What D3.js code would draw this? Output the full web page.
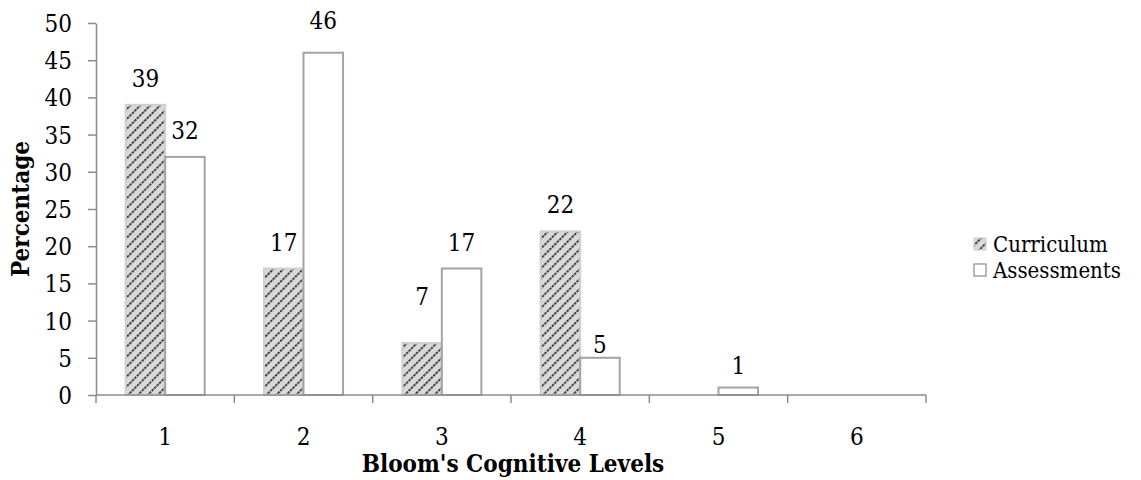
<!DOCTYPE html>
<html>
<head>
<meta charset="utf-8">
<script src="https://cdn.jsdelivr.net/npm/d3@7"></script>
<style>
  html, body { margin: 0; padding: 0; background: #fff; }
  svg text {
    font-family: "DejaVu Serif Condensed", "DejaVu Serif", serif;
    font-stretch: condensed;
    fill: #000;
  }
</style>
</head>
<body>
<svg id="chart" width="1141" height="480"></svg>
<script>
// Share of items at each of Bloom's cognitive levels
const levels = ["1", "2", "3", "4", "5", "6"];
const seriesNames = ["Curriculum", "Assessments"];
const curriculum = [39, 17, 7, 22, 0, 0];
const assessments = [32, 46, 17, 5, 1, 0];
const yTicks = [0, 5, 10, 15, 20, 25, 30, 35, 40, 45, 50];

// Gap (px) between each value label's baseline and its bar top
const curriculumLabelGap = [18, 18, 38, 18, 18, 18];
const assessmentsLabelGap = [18, 24, 18, 5, 14, 18];

const svg = d3.select("#chart");
const margin = { left: 96, right: 215, top: 23, bottom: 85 };
const W = 1141, H = 480;
const fontSize = 24;
const legendFontSize = 22;

// Hatched fill for the curriculum bars
const defs = svg.append("defs");
const pat = defs.append("pattern")
  .attr("id", "hatch")
  .attr("patternUnits", "userSpaceOnUse")
  .attr("width", 7).attr("height", 7)
  .attr("patternTransform", "rotate(45)");
pat.append("rect").attr("width", 7).attr("height", 7).attr("fill", "#d9d9d9");
pat.append("line")
  .attr("x1", 0).attr("y1", 0).attr("x2", 0).attr("y2", 7)
  .attr("stroke", "#262626").attr("stroke-width", 3.4)
  .attr("stroke-dasharray", "2.5 1");

const x = d3.scaleBand().domain(levels)
  .range([margin.left, W - margin.right]).paddingInner(0).paddingOuter(0);
const xs = d3.scaleBand().domain(seriesNames)
  .range([0, x.bandwidth()]).paddingInner(0).paddingOuter(0.75);
const y = d3.scaleLinear().domain([0, 50]).range([H - margin.bottom, margin.top]);

// Y axis
const yAxis = svg.append("g")
  .attr("transform", `translate(${margin.left},0)`)
  .call(d3.axisLeft(y).tickValues(yTicks).tickSize(8).tickPadding(16).tickSizeOuter(0));
yAxis.select(".domain").attr("stroke", "#8c8c8c").attr("stroke-width", 1.5);
yAxis.selectAll(".tick line").attr("stroke", "#8c8c8c").attr("stroke-width", 1.5);
yAxis.selectAll(".tick text").style("font-size", fontSize + "px").attr("dy", "0.35em");

// Bars and value labels
const series = [
  { name: "Curriculum", values: curriculum, gaps: curriculumLabelGap },
  { name: "Assessments", values: assessments, gaps: assessmentsLabelGap }
];
const groups = svg.append("g").selectAll("g")
  .data(levels).join("g")
  .attr("transform", d => `translate(${x(d)},0)`);

series.forEach(s => {
  const val = d => s.values[levels.indexOf(d)];
  const gap = d => s.gaps[levels.indexOf(d)];
  const shown = groups.filter(d => val(d) > 0);
  shown.append("rect")
    .attr("x", xs(s.name))
    .attr("width", xs.bandwidth())
    .attr("y", d => y(val(d)))
    .attr("height", d => y(0) - y(val(d)))
    .attr("fill", s.name === "Curriculum" ? "url(#hatch)" : "#ffffff")
    .attr("stroke", s.name === "Curriculum" ? "#d0d0d0" : "#a3a3a3")
    .attr("stroke-width", 2);

  shown.append("text")
    .attr("x", xs(s.name) + xs.bandwidth() / 2)
    .attr("y", d => y(val(d)) - gap(d))
    .attr("text-anchor", "middle")
    .style("font-size", fontSize + "px")
    .text(d => val(d));
});

// X axis with category boundary ticks
const xAxisG = svg.append("g").attr("transform", `translate(0,${y(0)})`);
xAxisG.append("line")
  .attr("x1", margin.left).attr("x2", W - margin.right)
  .attr("stroke", "#8c8c8c").attr("stroke-width", 1.5);
const bounds = levels.map(d => x(d)).concat([x(levels[levels.length - 1]) + x.bandwidth()]);
xAxisG.selectAll("line.b").data(bounds).join("line")
  .attr("class", "b")
  .attr("x1", d => d).attr("x2", d => d)
  .attr("y1", 0).attr("y2", 8)
  .attr("stroke", "#8c8c8c").attr("stroke-width", 1.5);
xAxisG.selectAll("text").data(levels).join("text")
  .attr("x", d => x(d) + x.bandwidth() / 2)
  .attr("y", 50)
  .attr("text-anchor", "middle")
  .style("font-size", fontSize + "px")
  .text(d => d);

// Axis titles
svg.append("text")
  .attr("x", (margin.left + W - margin.right) / 2 + 2)
  .attr("y", 472)
  .attr("text-anchor", "middle")
  .style("font-size", fontSize + "px")
  .style("font-weight", "bold")
  .text("Bloom's Cognitive Levels");
svg.append("text")
  .attr("transform", `translate(29,${(margin.top + H - margin.bottom) / 2}) rotate(-90)`)
  .attr("text-anchor", "middle")
  .style("font-size", fontSize + "px")
  .style("font-weight", "bold")
  .text("Percentage");

// Legend
const legend = svg.append("g").attr("transform", "translate(974,244)");
series.forEach((s, i) => {
  const g = legend.append("g").attr("transform", `translate(0,${i * 26})`);
  g.append("rect")
    .attr("x", 0).attr("y", -6).attr("width", 12).attr("height", 12)
    .attr("fill", s.name === "Curriculum" ? "url(#hatch)" : "#ffffff")
    .attr("stroke", s.name === "Curriculum" ? "#d0d0d0" : "#8c8c8c")
    .attr("stroke-width", 1.2);
  g.append("text")
    .attr("x", 19).attr("y", 0).attr("dy", "0.35em")
    .style("font-size", legendFontSize + "px")
    .text(s.name);
});
</script>
</body>
</html>
